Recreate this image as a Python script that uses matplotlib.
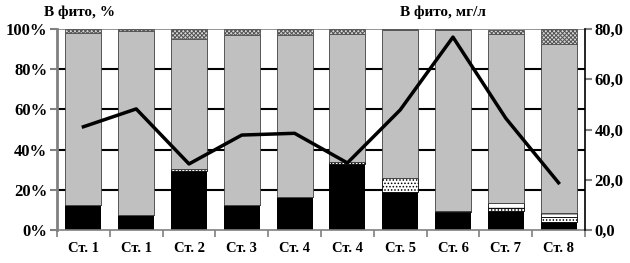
import numpy as np
import matplotlib
matplotlib.use("Agg")
from matplotlib import pyplot as plt

stations = ["Ст. 1", "Ст. 1", "Ст. 2", "Ст. 3", "Ст. 4", "Ст. 4", "Ст. 5", "Ст. 6", "Ст. 7", "Ст. 8"]

# shares in phytoplankton, % (stacked from bottom)
black_part = [12.4, 7.5, 29.5, 12.4, 16.6, 33.0, 19.0, 9.0, 9.6, 4.0]
dotted_part = [0.0, 0.0, 0.8, 0.0, 0.0, 0.8, 7.0, 0.6, 1.5, 2.5]
dashed_part = [0.0, 0.0, 0.0, 0.0, 0.0, 0.0, 0.0, 0.0, 2.5, 2.1]
gray_part = [85.4, 91.5, 64.7, 84.6, 80.4, 63.7, 73.5, 89.8, 83.9, 83.9]
hatched_part = [2.2, 1.0, 5.0, 3.0, 3.0, 2.5, 0.5, 0.6, 2.0, 7.5]

# biomass in phytoplankton, mg/l
biomass = [41.1, 48.2, 26.3, 37.8, 38.5, 26.7, 47.8, 76.8, 44.5, 18.8]

plt.rcParams['font.family'] = ['Liberation Serif', 'DejaVu Serif']
plt.rcParams['font.weight'] = 'bold'
plt.rcParams['hatch.linewidth'] = 0.7

fig = plt.figure(figsize=(6.3, 2.63), dpi=100)
ax = fig.add_axes([0.0905, 0.1255, 0.838, 0.764])

x = np.arange(len(stations))
w = 0.68

for yv in [20, 40, 60, 80]:
    ax.axhline(yv, color='black', lw=1.5, zorder=0)
ax.axhline(100, color='#808080', lw=1.2, zorder=0)

bottom = np.zeros(len(stations))
layers = [
    (black_part, dict(color='black')),
    (dotted_part, dict(color='white', hatch='.....', edgecolor='black')),
    (dashed_part, dict(color='white', hatch='---', edgecolor='black')),
    (gray_part, dict(color='#c0c0c0', edgecolor='#404040')),
    (hatched_part, dict(color='#d8d8d8', hatch='xxxxxxxx', edgecolor='#505050')),
]
for vals, style in layers:
    vals = np.array(vals)
    ax.bar(x, vals, w, bottom=bottom, linewidth=0.6, zorder=2, **style)
    bottom += vals

ax.set_xlim(-0.5, len(stations) - 0.5)
ax.set_ylim(0, 100)
ax.set_yticks([0, 20, 40, 60, 80, 100])
ax.set_yticklabels(["0%", "20%", "40%", "60%", "80%", "100%"], fontsize=12, fontweight='bold')

ax.set_xticks(np.arange(len(stations) + 1) - 0.5)
ax.set_xticklabels([])
ax.set_xticks(x, minor=True)
ax.set_xticklabels(stations, minor=True, fontsize=10.5, fontweight='bold')
ax.tick_params(axis='x', which='minor', length=0, pad=9)
ax.tick_params(axis='x', which='major', length=5, color='#808080', width=1.2)
ax.tick_params(axis='y', length=5, color='#808080', width=1.5, pad=2)

for s in ['top', 'right']:
    ax.spines[s].set_visible(False)
ax.spines['left'].set_color('#808080')
ax.spines['left'].set_linewidth(2)
ax.spines['bottom'].set_color('#808080')
ax.spines['bottom'].set_linewidth(1.2)

ax2 = ax.twinx()
ax2.plot(x, biomass, color='black', lw=2.5, zorder=5)
ax2.set_ylim(0, 80)
ax2.set_yticks([0, 20, 40, 60, 80])
ax2.set_yticklabels(["0,0", "20,0", "40,0", "60,0", "80,0"], fontsize=12, fontweight='bold')
ax2.tick_params(axis='y', length=5, color='#808080', width=1.5, pad=2)
for s in ['top', 'left', 'bottom']:
    ax2.spines[s].set_visible(False)
ax2.spines['right'].set_color('black')
ax2.spines['right'].set_linewidth(1.2)

fig.text(0.07, 0.955, "В фито, %", fontsize=11, fontweight='bold', va='center')
fig.text(0.635, 0.955, "В фито, мг/л", fontsize=11, fontweight='bold', va='center')

fig.savefig("out.png", dpi=100)
